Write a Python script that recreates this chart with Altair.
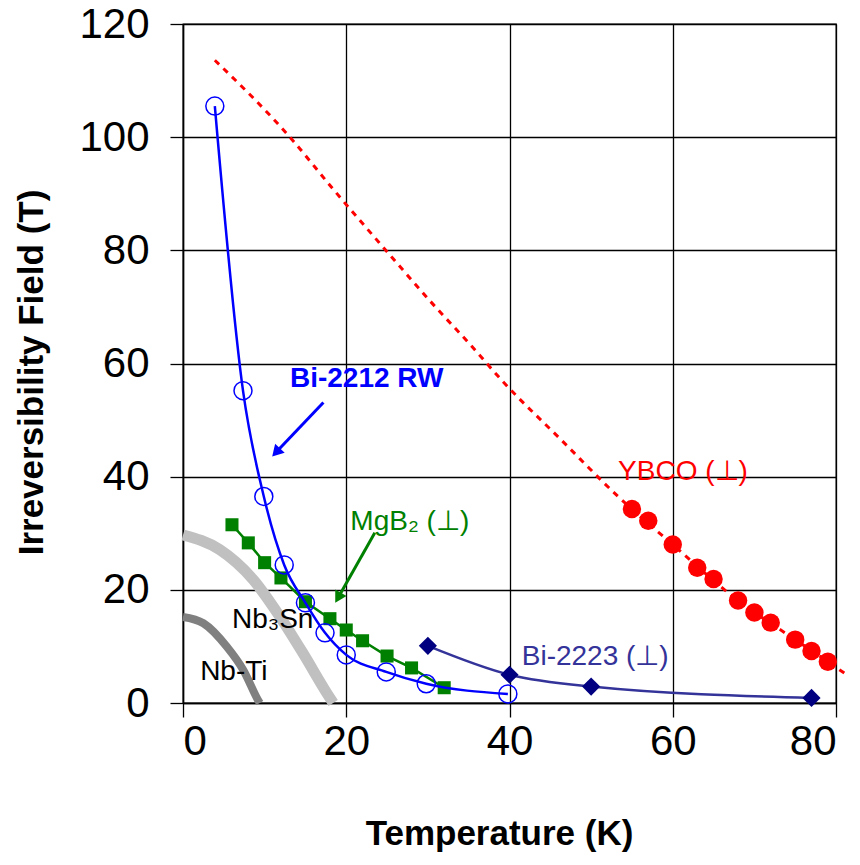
import altair as alt
import pandas as pd

# ---- data ----
bi2212_t = [3.9, 7.35, 9.9, 12.4, 15.0, 17.4, 20.0, 24.9, 29.8, 39.8]
bi2212_b = [105.5, 55.2, 36.5, 24.4, 17.7, 12.4, 8.5, 5.5, 3.4, 1.6]

mgb2_t = [6, 8, 10, 12, 15, 18, 20, 22, 25, 28, 32]
mgb2_b = [31.5, 28.3, 24.8, 22.1, 17.9, 14.9, 12.9, 11.0, 8.3, 6.2, 2.7]

bi2223_t = [30, 40, 50, 77]
bi2223_b = [10.1, 5.0, 2.9, 0.9]

ybco_t = [55, 57, 60, 63, 65, 68, 70, 72, 75, 77, 79]
ybco_b = [34.3, 32.2, 28.0, 23.9, 21.9, 18.1, 16.0, 14.2, 11.2, 9.2, 7.3]

ybco_fit_t = [3.9, 13.1, 18.4, 25.4, 30.3, 35.4, 39.2, 46.4, 53.3, 60, 68, 75, 79, 81.5]
ybco_fit_b = [113.6, 100.0, 90.8, 79.1, 71.0, 63.0, 56.8, 46.4, 36.5, 28.0, 18.1, 11.2, 7.3, 4.8]

nb3sn_t = [0, 4.5, 8.6, 11.9, 14.7, 17.6, 18.4]
nb3sn_b = [29.7, 27.1, 21.8, 15.2, 8.8, 1.8, 0]

nbti_t = [0, 2.5, 5.4, 7.4, 9.2, 9.4]
nbti_b = [15.2, 14.1, 9.9, 5.8, 0.5, 0]

label_text = ["Bi-2212 RW", "MgB₂ (⊥)", "YBCO (⊥)", "Bi-2223 (⊥)", "Nb₃Sn", "Nb-Ti"]
label_t = [13.1, 20.5, 53.3, 41.5, 6.0, 2.1]
label_b = [57.2, 32.0, 40.9, 8.1, 14.7, 5.5]
label_color = ["#0000ff", "#008000", "#ff0000", "#333399", "#000000", "#000000"]
label_weight = ["bold", "normal", "normal", "normal", "normal", "normal"]

arrow_blue_t = [17.2, 11.4]
arrow_blue_b = [53.1, 44.3]
arrow_green_t = [23.5, 19.0]
arrow_green_b = [30.1, 18.6]

x_ticks = [0, 20, 40, 60, 80]
y_ticks = [0, 20, 40, 60, 80, 100, 120]


def df(t, b):
    return pd.DataFrame({"x": t, "y": b})


X = alt.X("x:Q", scale=alt.Scale(domain=[0, 80], nice=False, zero=False),
          axis=alt.Axis(values=x_ticks, title="Temperature (K)", grid=True,
                        tickSize=14, labelPadding=4, labelFontSize=42,
                        titleFontSize=35, titleFontWeight="bold",
                        titleX=316, titleY=141, titleBaseline="alphabetic",
                        titleAlign="center"))
Y = alt.Y("y:Q", scale=alt.Scale(domain=[0, 120], nice=False, zero=False),
          axis=alt.Axis(values=y_ticks, title="Irreversibility Field (T)", grid=True,
                        tickSize=13, labelPadding=21, labelFontSize=42,
                        titleFontSize=35, titleFontWeight="bold",
                        titleX=-141, titleY=348, titleAngle=270,
                        titleBaseline="alphabetic", titleAlign="center"))

nb3sn = alt.Chart(df(nb3sn_t, nb3sn_b)).mark_line(
    color="#c0c0c0", strokeWidth=11, interpolate="monotone", strokeCap="butt"
).encode(x=X, y=Y, order="x:Q")

nbti = alt.Chart(df(nbti_t, nbti_b)).mark_line(
    color="#808080", strokeWidth=8, interpolate="monotone", strokeCap="butt"
).encode(x=X, y=Y, order="x:Q")

ybco_fit = alt.Chart(df(ybco_fit_t, ybco_fit_b)).mark_line(
    color="#ff0000", strokeWidth=3, strokeDash=[6, 6], interpolate="monotone"
).encode(x=X, y=Y, order="x:Q")

ybco_pts = alt.Chart(df(ybco_t, ybco_b)).mark_point(
    shape="circle", filled=True, color="#ff0000", size=340, opacity=1
).encode(x=X, y=Y)

bi2223_line = alt.Chart(df(bi2223_t, bi2223_b)).mark_line(
    color="#333399", strokeWidth=2.5, interpolate="monotone"
).encode(x=X, y=Y, order="x:Q")

bi2223_pts = alt.Chart(df(bi2223_t, bi2223_b)).mark_point(
    shape="diamond", filled=True, color="#000080", size=330, opacity=1
).encode(x=X, y=Y)

mgb2_line = alt.Chart(df(mgb2_t, mgb2_b)).mark_line(
    color="#008000", strokeWidth=2.5
).encode(x=X, y=Y, order="x:Q")

mgb2_pts = alt.Chart(df(mgb2_t, mgb2_b)).mark_point(
    shape="square", filled=True, color="#008000", size=170, opacity=1
).encode(x=X, y=Y)

bi2212_line = alt.Chart(df(bi2212_t, bi2212_b)).mark_line(
    color="#0000ff", strokeWidth=2.5, interpolate="monotone"
).encode(x=X, y=Y, order="x:Q")

bi2212_pts = alt.Chart(df(bi2212_t, bi2212_b)).mark_point(
    shape="circle", filled=False, color="#0000ff", size=324, strokeWidth=1.5, opacity=1
).encode(x=X, y=Y)

arrows = []
for t, b, col, ang in [(arrow_blue_t, arrow_blue_b, "#0000ff", 223),
                       (arrow_green_t, arrow_green_b, "#008000", 210)]:
    arrows.append(alt.Chart(df(t, b)).mark_line(color=col, strokeWidth=3).encode(x=X, y=Y, order="x:Q"))
    arrows.append(alt.Chart(df(t[1:], b[1:])).mark_point(
        shape="triangle-up", filled=True, color=col, size=170, angle=ang, opacity=1
    ).encode(x=X, y=Y))

labels_df = pd.DataFrame({"x": label_t, "y": label_b, "text": label_text,
                          "color": label_color, "weight": label_weight})
labels = []
for w in ["bold", "normal"]:
    labels.append(alt.Chart(labels_df[labels_df.weight == w]).mark_text(
        align="left", baseline="middle", fontSize=28, fontWeight=w, font="Liberation Sans"
    ).encode(x=X, y=Y, text="text:N", color=alt.Color("color:N", scale=None)))

chart = alt.layer(
    nb3sn, nbti, ybco_fit, ybco_pts, bi2223_line, bi2223_pts,
    mgb2_line, mgb2_pts, bi2212_line, bi2212_pts, *arrows, *labels
).properties(
    width=653, height=679,
    autosize=alt.AutoSizeParams(type="none"),
    padding={"left": 175, "top": 16, "right": 12, "bottom": 154},
).configure(
    font="Liberation Sans"
).configure_axis(
    gridColor="#000000", gridWidth=1.3, gridOpacity=1,
    domainColor="#000000", domainWidth=1.5, tickColor="#000000", tickWidth=1.3,
    labelColor="#000000", titleColor="#000000", labelFont="Liberation Sans",
    titleFont="Liberation Sans"
).configure_view(stroke="#000000", strokeWidth=1.3)

chart.save("out.html", embed_options={"renderer": "svg", "actions": False})
